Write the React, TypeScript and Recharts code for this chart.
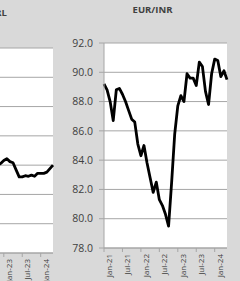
import React from "react";
import { LineChart, Line, XAxis, YAxis, CartesianGrid } from "recharts";

const MONTHS = [
  "Jan-21", "Feb-21", "Mar-21", "Apr-21", "May-21", "Jun-21", "Jul-21", "Aug-21", "Sep-21", "Oct-21", "Nov-21", "Dec-21",
  "Jan-22", "Feb-22", "Mar-22", "Apr-22", "May-22", "Jun-22", "Jul-22", "Aug-22", "Sep-22", "Oct-22", "Nov-22", "Dec-22",
  "Jan-23", "Feb-23", "Mar-23", "Apr-23", "May-23", "Jun-23", "Jul-23", "Aug-23", "Sep-23", "Oct-23", "Nov-23", "Dec-23",
  "Jan-24", "Feb-24", "Mar-24", "Apr-24", "May-24",
];

const EUR_INR = [
  89.2, 88.8, 88.0, 86.7, 88.8, 88.9, 88.5, 88.0, 87.4, 86.8, 86.6, 85.1,
  84.3, 85.0, 83.8, 82.8, 81.8, 82.5, 81.3, 80.9, 80.3, 79.5, 82.5, 85.8,
  87.7, 88.4, 88.0, 89.9, 89.6, 89.6, 89.1, 90.7, 90.4, 88.7, 87.8, 89.9,
  90.9, 90.8, 89.7, 90.1, 89.5,
];

const USD_BRL = [
  5.47, 5.53, 5.63, 5.44, 5.22, 5.0, 5.2, 5.25, 5.4, 5.62, 5.55, 5.58,
  5.36, 5.15, 4.8, 4.75, 4.95, 5.2, 5.3, 5.15, 5.3, 5.25, 5.0, 5.03,
  5.08, 5.11, 5.06, 5.04, 4.92, 4.8, 4.8, 4.82, 4.81, 4.83, 4.81, 4.86,
  4.86, 4.86, 4.88, 4.94, 5.0,
];

const EUR_INR_TICKS = [78, 80, 82, 84, 86, 88, 90, 92];
const USD_BRL_TICKS = [3.5, 4.0, 4.5, 5.0, 5.5, 6.0, 6.5, 7.0];

const TITLE_RIGHT = "EUR/INR";
const TITLE_LEFT = "USD/BRL";

const FONT = "'Open Sans', 'Noto Sans', sans-serif";
const TEXT = "#404040";
const GRID = "#a6a6a6";
const BG = "#d9d9d9";

const eurData = MONTHS.map((m, i) => ({ m, v: EUR_INR[i] }));
const brlData = MONTHS.map((m, i) => ({ m, v: USD_BRL[i] }));

const XTick = (props: any) => {
  const { x, y, payload } = props;
  return (
    <text
      x={0}
      y={0}
      transform={`translate(${x + 8}, ${y}) rotate(-90)`}
      textAnchor="end"
      fontSize={8}
      fill={TEXT}
      fontFamily={FONT}
    >
      {payload.value}
    </text>
  );
};

function FxChart({ data, ticks, left, top }: { data: any[]; ticks: number[]; left: number; top: number }) {
  return (
    <div style={{ position: "absolute", left, top, width: 180, height: 281 }}>
      <LineChart width={180} height={281} data={data} margin={{ top: 43, right: 13, bottom: 0, left: 0 }}>
        <CartesianGrid vertical={false} fill="#ffffff" stroke={GRID} strokeWidth={1} />
        <XAxis
          dataKey="m"
          interval={5}
          height={33}
          tickSize={4}
          tickMargin={2}
          tick={<XTick />}
          stroke={GRID}
          axisLine={{ stroke: GRID }}
          tickLine={{ stroke: GRID }}
        />
        <YAxis
          type="number"
          domain={[ticks[0], ticks[ticks.length - 1]]}
          ticks={ticks}
          interval={0}
          width={44}
          tickSize={5}
          tickMargin={6}
          tickFormatter={(v: number) => v.toFixed(1)}
          tick={{ fill: TEXT, fontSize: 10.5, fontFamily: FONT }}
          axisLine={{ stroke: GRID }}
          tickLine={{ stroke: GRID }}
        />
        <Line
          type="linear"
          dataKey="v"
          stroke="#000000"
          strokeWidth={2.8}
          strokeLinejoin="round"
          dot={false}
          isAnimationActive={false}
        />
      </LineChart>
    </div>
  );
}

export default function App() {
  return (
    <div
      style={{
        position: "absolute",
        left: 0,
        top: 0,
        width: 240,
        height: 281,
        background: BG,
        overflow: "hidden",
      }}
    >
      <FxChart data={brlData} ticks={USD_BRL_TICKS} left={-114} top={5} />
      <FxChart data={eurData} ticks={EUR_INR_TICKS} left={60} top={0} />
      <svg width={240} height={281} style={{ position: "absolute", left: 0, top: 0, pointerEvents: "none" }}>
        <text x={7} y={15.7} textAnchor="end" fontSize={9.5} fontWeight="bold" fill={TEXT} fontFamily={FONT}>
          {TITLE_LEFT}
        </text>
        <text x={152.5} y={13.3} textAnchor="middle" fontSize={9.5} fontWeight="bold" fill={TEXT} fontFamily={FONT}>
          {TITLE_RIGHT}
        </text>
      </svg>
    </div>
  );
}
